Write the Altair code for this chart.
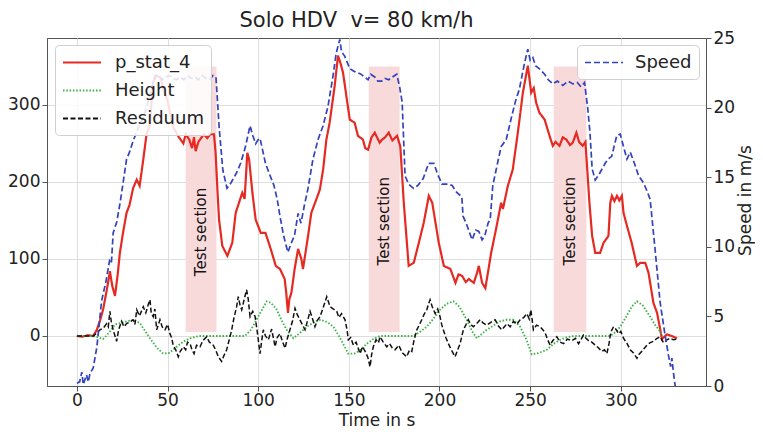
import altair as alt
import pandas as pd

FONT = "DejaVu Sans"

# ---------------- data ----------------
speed = [(0,0.2),(1.5,0.3),(2.7,1.0),(3.5,0.1),(5.3,0.8),(6.3,0.3),(7.2,0.9),(9,1.3),(11,2.8),(13.6,6.1),(16,7.5),(18,9.0),(19,8.8),(20,11.0),(22,11.8),(24,13.3),(27.4,16.3),(29,16.8),(31,17.6),(34,18.6),(36.6,19.3),(39,20.3),(41.2,21.3),(43,22.3),(45,22.3),(47,22.0),(49,22.2),(51,22.3),(53,22.1),(55,22.0),(57,22.2),(59,22.0),(61,22.3),(63,22.1),(65,22.2),(67,22.0),(69,22.3),(71,22.1),(73,22.0),(75,22.3),(76.7,22.2),(78.5,18.5),(80.5,15.5),(82.8,14.2),(85,14.6),(88,15.3),(90.3,16.0),(93,17.2),(95.5,18.7),(97,18.0),(98.6,17.4),(100,17.7),(101,17.8),(102.5,16.9),(104,16.0),(106,15.3),(108.7,14.4),(110.5,13.4),(112,12.2),(114,10.8),(116.4,9.6),(118,10.2),(120,10.8),(122,12.4),(123.6,11.7),(125.5,13.0),(127.5,14.2),(130.2,16.3),(133,17.7),(135.8,18.7),(138.5,20.1),(141.3,22.3),(143,23.9),(145,24.9),(146,24.0),(147.7,23.7),(150.5,22.8),(153,22.6),(156.7,22.4),(158.5,22.2),(160.6,22.0),(162,22.4),(164.3,22.2),(166,21.9),(168,21.9),(170,22.1),(172,22.0),(174,22.2),(176.4,22.4),(178,21.5),(179.4,20.4),(181,15.1),(183,14.5),(185.7,14.2),(188,14.4),(191,14.9),(194,16.0),(196.9,16.0),(199,15.2),(201.4,14.5),(204.7,14.5),(207,14.4),(209.5,13.9),(212.3,13.6),(213,12.2),(215,11.6),(218,10.5),(220,11.2),(221.7,11.1),(223.5,10.5),(225,10.8),(226.8,11.7),(228,12.0),(229.4,14.4),(232,16.0),(234,17.2),(236.8,17.7),(239.5,19.2),(242,20.5),(244,21.3),(246.9,23.2),(248.7,24.2),(250,23.4),(251.5,23.6),(253,23.0),(255,22.8),(258,22.4),(260,22.0),(262.5,21.7),(265,21.9),(268,21.6),(271,21.9),(273.6,21.7),(276,21.8),(278,21.5),(280,21.8),(281.8,19.9),(283,18.2),(284.2,15.6),(285.9,14.8),(288,15.2),(291.4,16.0),(293,16.3),(295,16.5),(297.8,18.0),(299.7,18.1),(301.5,17.2),(303.4,16.3),(305.2,16.8),(307.5,16.0),(309.8,15.1),(312.5,14.6),(314.5,14.0),(316.2,13.4),(319,9.7),(321.7,6.0),(324,4.0),(326.3,2.2),(327.5,1.4),(328.2,2.0),(329,1.0),(330,0.0)]

p_stat_4 = [(0,0),(3,-1),(6,1),(9,0),(11,8),(13,22),(14.5,35),(16.5,60),(18.2,84),(19.5,65),(21,52),(22.5,80),(23.7,108),(25.5,135),(27.4,160),(29,170),(31,192),(33,203),(34.6,195),(36.6,229),(38.4,262),(40.3,275),(42,330),(44,338),(46,336),(48,318),(50,306),(53,272),(56,259),(58.7,250),(60,262),(62,255),(63.5,244),(64.6,258),(65.5,240),(67,252),(68.2,256),(70,262),(71.9,257),(73.5,262),(75.6,262),(76.5,238),(77.5,190),(78.4,151),(80.2,117),(83,104),(85.7,121),(87.6,160),(89.4,173),(91.2,186),(92.5,178),(94,238),(95,229),(96.8,186),(98.6,151),(101.4,134),(104,134),(106.9,113),(109.7,91),(112,87),(112.8,83),(114.6,74),(115.5,55),(116.4,30),(117.2,48),(118.3,56),(120.1,87),(122,113),(123.8,100),(124.7,87),(127.5,130),(129.3,160),(132,177),(134,190),(135.8,216),(137.6,255),(139.4,277),(142.2,325),(144,364),(145.3,355),(146.8,342),(148.6,312),(150.5,281),(153.2,277),(155,260),(157.8,255),(159,244),(160.6,242),(162.5,258),(164.3,264),(167,251),(168.3,255),(170,258),(172,264),(174,254),(176.6,260),(178.4,246),(180.3,173),(183,91),(185.8,95),(188.6,121),(191.3,147),(194.1,182),(196,173),(197.8,147),(199.6,121),(202.4,91),(206,87),(208.8,69),(210.5,80),(212.5,78),(214.5,70),(216.2,74),(218.9,69),(220.6,81),(221.7,91),(223.5,69),(225.3,62),(228.5,108),(231.2,139),(234,173),(235,165),(237.7,195),(240.4,216),(243.2,264),(246,316),(248.7,351),(250.6,316),(252,322),(253.3,303),(255.1,290),(258,281),(260.7,260),(262.5,247),(264,252),(266.2,247),(268,258),(270,255),(272,248),(273.5,251),(275.5,264),(277,252),(279,247),(280.5,252),(282.7,173),(284.2,130),(285.9,108),(288.6,108),(290.5,121),(293.2,130),(294.2,173),(295.1,182),(296.5,175),(297.9,182),(299.2,176),(300.6,182),(301.5,160),(303.4,143),(306,121),(308.9,91),(310.7,95),(313.5,95),(315.3,82),(318,43),(320,30),(321.7,9),(322.7,-4),(325.4,2),(328,0),(331,-3)]

height = [(0,0),(9,0),(12,-2),(14.5,-4),(18,5),(21,15),(26,18),(31,21),(34.6,17),(38,5),(40.3,-3),(44,-15),(47.6,-23),(51,-22),(55,-14),(59,-7),(62.4,-3),(67.5,0),(92.7,0),(96,8),(100,25),(104.7,45),(107,43),(110,35),(113,20),(115.7,8),(119.4,-3),(122,2),(124.9,8),(128,14),(132.3,19),(134.3,21),(138,18),(141.5,12),(145,-2),(149.7,-23),(153,-23),(156,-19),(160,-10),(163.5,-4),(167,0),(185.6,0),(189,5),(193,12),(196.5,22),(200.3,34),(204,42),(207.7,45),(211,38),(215,21),(218,6),(220.6,-3),(223,2),(226,8),(230,14),(233.4,19),(237,21),(240.8,21),(244.5,12),(248,-5),(250.9,-24),(255,-22),(259.2,-18),(263,-10),(266.6,-5),(270,-2),(274,0),(294.2,0),(297,5),(299.7,12),(303,25),(306,38),(308.9,45),(312,40),(316.2,25),(319,14),(321.7,6),(323,0)]

residuum = [(0,0),(5,0),(9,0),(11,4),(12.7,8),(14.5,10),(16.4,16),(17.3,12),(18.2,32),(19,18),(20,8),(21.9,-7),(23,8),(24.6,19),(26,12),(27.4,16),(29,18),(31,21),(32,15),(33,34),(34.5,26),(36.6,38),(38,30),(39.5,42),(40.3,47),(41,30),(42.1,25),(43,35),(44,8),(45.8,21),(47,12),(48.6,8),(50,15),(51.3,3),(52.2,-2),(53.1,-12),(54.5,-18),(55.9,-27),(57,-20),(58.7,-14),(60,-18),(61,-8),(62.4,-10),(63.5,-18),(64.6,-23),(66,-12),(67.9,-14),(69.5,-6),(71.6,-1),(73,-8),(75.2,-12),(76.5,-18),(78,-27),(79.8,-33),(81,-26),(82.6,-18),(84,-5),(85.4,8),(86.5,22),(88.1,38),(89,51),(90,40),(90.9,34),(92,45),(93.6,60),(94.5,48),(95.5,25),(97,32),(98.3,25),(99.5,5),(101,-23),(102,-5),(102.8,8),(104,0),(105.6,-5),(107.4,9),(109.3,-14),(110.5,-2),(112,3),(113.5,-8),(114.8,-16),(116,-4),(117.5,8),(119,20),(120.3,36),(121.5,28),(123,21),(124.5,14),(125.8,8),(127,18),(128.6,32),(130,22),(131.3,12),(132.5,20),(134.1,25),(136,38),(137.8,51),(139.6,38),(141.5,35),(143.3,32),(144.5,24),(146,29),(147.9,21),(149,8),(149.7,-5),(151,-2),(152.5,-12),(154,-8),(156.2,-23),(157.5,-14),(159,-20),(160.5,-28),(161.7,-40),(162.5,-25),(163.5,-14),(165,-5),(166.3,-9),(167.2,-1),(169,-8),(170.9,-14),(172.5,-10),(174,-16),(175.5,-18),(177.5,-12),(179.5,-22),(181.9,-27),(183.5,-18),(184.7,-20),(186,-5),(187.5,8),(189,15),(190.2,21),(191.5,28),(193,34),(194,42),(194.8,47),(196,38),(197.6,29),(199,35),(200.3,25),(201.2,15),(202.1,8),(203.5,-2),(204.9,-10),(206.5,-18),(208.6,-27),(210,-18),(211.4,-10),(212.3,0),(213.2,8),(214.5,14),(215.9,21),(217.2,15),(218.7,12),(220.5,16),(222.4,21),(224,17),(226.1,14),(228.5,18),(230.7,21),(232.5,13),(234.4,8),(235.8,12),(237.2,16),(239,12),(240.8,19),(242.5,15),(244.5,21),(246.5,24),(248.2,29),(249.5,22),(250.4,34),(251.8,8),(253.5,14),(255.5,12),(257,8),(258.3,4),(259.5,-4),(261,-12),(262.5,-6),(264.7,-1),(266.5,-8),(268.4,-10),(270.5,-4),(273,-6),(275,-3),(276.7,-10),(278,-5),(279.4,1),(280.8,-3),(282.2,-6),(284,-8),(285.9,-12),(287.5,-15),(289.5,-20),(291,-18),(292.3,-23),(293.5,-10),(294.5,5),(296,12),(297.5,8),(298.8,3),(300,6),(301.5,-3),(303.5,-10),(305.2,-18),(307,-22),(308.9,-29),(310,-24),(311.6,-20),(313,-16),(314.4,-12),(316,-9),(318,-7),(320,-3),(321.7,-1),(323.6,-9),(325.5,-5),(327.3,-3),(329,-5),(331,-4)]

section_start = [60, 161, 263]
section_end = [77, 178, 281]
section_low = [5, 5, 5]
section_high = [350, 350, 350]
section_label = ["Test section", "Test section", "Test section"]
section_label_y = [135, 149, 149]

left_series = ["p_stat_4", "Height", "Residuum"]
left_colors = ["#e42a22", "#3cb043", "#111111"]
left_dashes = [[1, 0], [1.5, 1.8], [5, 2.5]]
left_widths = [2.2, 1.5, 1.5]

x_ticks = [0, 50, 100, 150, 200, 250, 300]
left_ticks = [0, 100, 200, 300]
right_ticks = [0, 5, 10, 15, 20, 25]


def frame(pairs, name):
    return pd.DataFrame({"t": [p[0] for p in pairs], "v": [p[1] for p in pairs], "series": name})


left_df = pd.concat([frame(p_stat_4, "p_stat_4"), frame(height, "Height"), frame(residuum, "Residuum")],
                    ignore_index=True)
speed_df = frame(speed, "Speed")
sec_df = pd.DataFrame({"start": section_start, "end": section_end, "lo": section_low,
                       "hi": section_high, "label": section_label, "ly": section_label_y})
sec_df["mid"] = (sec_df["start"] + sec_df["end"]) / 2

# legend line symbol: a flat stroke running from the cell's left edge to 4x its radius
LEG_PATH = "M-1,0H3"

x_scale = alt.Scale(domain=[-16.5, 347], nice=False, zero=False)
x_axis = alt.Axis(values=x_ticks, title="Time in s", grid=True, labelFlush=False,
                  labelPadding=1, titlePadding=4, titleFontSize=17)
yl_scale = alt.Scale(domain=[-65, 387], nice=False, zero=False)
yl_axis = alt.Axis(values=left_ticks, title="", grid=True, labelPadding=2)

shade = alt.Chart(sec_df).mark_rect(color="#f9dadb", opacity=1).encode(
    x=alt.X("start:Q", scale=x_scale, axis=x_axis),
    x2="end:Q",
    y=alt.Y("lo:Q", scale=yl_scale, axis=yl_axis),
    y2="hi:Q",
)

left_legend = dict(title=None, orient="none", legendX=8, legendY=7,
                   fillColor="rgba(255,255,255,0.85)", strokeColor="#d0d0d0",
                   cornerRadius=4, padding=7, labelFontSize=18, labelFont=FONT,
                   labelColor="#222", symbolType=LEG_PATH, symbolSize=361,
                   symbolStrokeWidth=2, rowPadding=8, labelOffset=32)

lines = alt.Chart(left_df).mark_line(strokeCap="butt").encode(
    x=alt.X("t:Q", scale=x_scale, axis=x_axis),
    y=alt.Y("v:Q", scale=yl_scale, axis=yl_axis),
    color=alt.Color("series:N", sort=left_series,
                    scale=alt.Scale(domain=left_series, range=left_colors),
                    legend=alt.Legend(**left_legend)),
    strokeDash=alt.StrokeDash("series:N", sort=left_series,
                              scale=alt.Scale(domain=left_series, range=left_dashes),
                              legend=alt.Legend(**left_legend)),
    strokeWidth=alt.StrokeWidth("series:N", scale=alt.Scale(domain=left_series, range=left_widths),
                                legend=None),
    order=alt.Order("t:Q"),
)

labels = alt.Chart(sec_df).mark_text(angle=270, fontSize=15, font=FONT, color="#111").encode(
    x=alt.X("mid:Q", scale=x_scale, axis=x_axis),
    y=alt.Y("ly:Q", scale=yl_scale, axis=yl_axis),
    text="label:N",
)

left = alt.layer(shade, lines, labels)

right_legend = dict(title=None, orient="none", legendX=530, legendY=7,
                    fillColor="rgba(255,255,255,0.85)", strokeColor="#d0d0d0",
                    cornerRadius=4, padding=7, labelFontSize=18, labelFont=FONT,
                    labelColor="#222", symbolType=LEG_PATH, symbolSize=361,
                    symbolStrokeWidth=1.7, labelOffset=30)

speed_line = alt.Chart(speed_df).mark_line(strokeWidth=1.7).encode(
    x=alt.X("t:Q", scale=x_scale, axis=x_axis),
    y=alt.Y("v:Q", scale=alt.Scale(domain=[0, 25], nice=False, zero=False),
            axis=alt.Axis(orient="right", values=right_ticks, title="Speed in m/s", grid=False,
                          titleAngle=270, titleFontSize=17, labelPadding=2, titlePadding=20,
                          titleY=162)),
    color=alt.Color("series:N", scale=alt.Scale(domain=["Speed"], range=["#3343bd"]),
                    legend=alt.Legend(**right_legend)),
    strokeDash=alt.StrokeDash("series:N", scale=alt.Scale(domain=["Speed"], range=[[6, 3]]),
                              legend=alt.Legend(**right_legend)),
    order=alt.Order("t:Q"),
)

chart = alt.layer(left, speed_line).resolve_scale(
    y="independent", color="independent", strokeDash="independent"
).properties(
    width=659, height=348,
    autosize=alt.AutoSizeParams(type="none"),
    padding={"left": 39, "top": 30, "right": 49, "bottom": 44},
    title=alt.TitleParams("Solo HDV\u00a0 v= 80 km/h", fontSize=21, font=FONT, fontWeight="normal",
                          color="#222", anchor="middle", dx=-20, offset=-2),
).configure_view(
    stroke="#555", strokeWidth=1
).configure_axis(
    labelFont=FONT, titleFont=FONT, labelFontSize=17, titleFontSize=18,
    labelColor="#222", titleColor="#222", titleFontWeight="normal",
    domainColor="#555", tickColor="#555", tickSize=5, gridColor="#dedede", gridWidth=1,
)

chart.save("out.html", embed_options={"renderer": "svg", "actions": False})
